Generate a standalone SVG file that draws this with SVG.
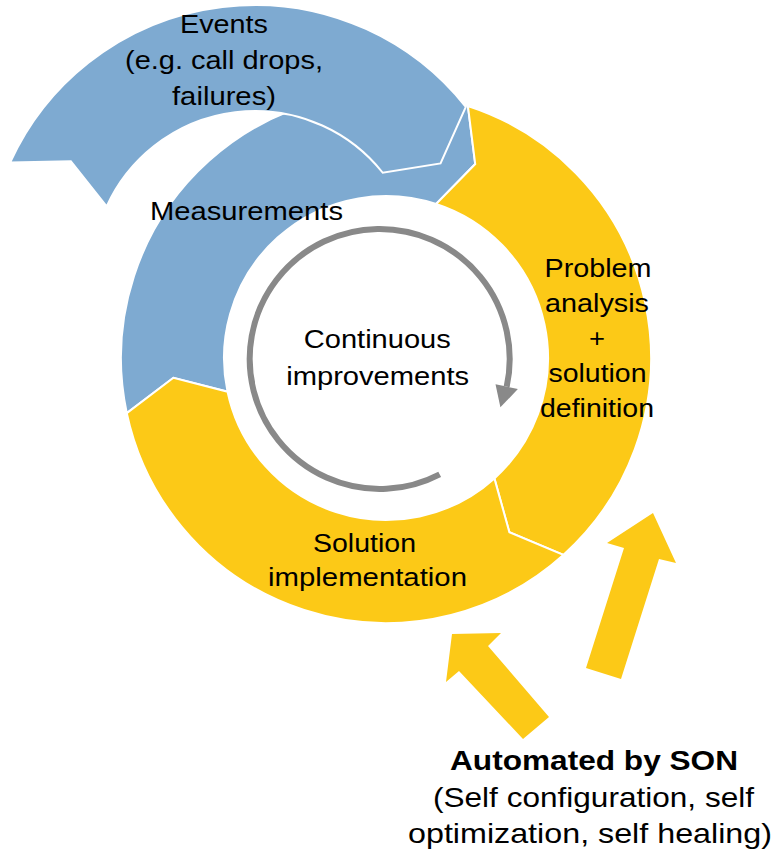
<svg xmlns="http://www.w3.org/2000/svg" width="774" height="849" viewBox="0 0 774 849">
  <style>
    .blue { fill: #7EAAD1; stroke: #FFFFFF; stroke-width: 2; stroke-linejoin: miter; }
    .yellow { fill: #FCC917; stroke: #FFFFFF; stroke-width: 2; stroke-linejoin: miter; }
    .son { fill: #FCC917; stroke: none; }
    .lbl { font-family: "Liberation Sans", Arial, sans-serif; font-size: 25.5px; fill: #000000; text-anchor: middle; }
    .big { font-size: 28px; }
    .bold { font-weight: bold; }
    .loop { fill: none; stroke: #898989; stroke-width: 6; }
  </style>

  <rect x="0" y="0" width="774" height="849" fill="#FFFFFF"/>

  <!-- Ring segment: Measurements (left / top) -->
  <g id="measurements">
    <path class="blue" d="M 126.79,413.10 A 265 265 0 0 1 467.89,105.97 L 475.22,164.03 L 436.06,203.93 A 162 162 0 0 0 227.54,391.68 L 173.41,377.72 Z"/>
    <text class="lbl" x="246.5" y="220" textLength="193" lengthAdjust="spacingAndGlyphs">Measurements</text>
  </g>

  <!-- Ring segment: Problem analysis + solution definition (right) -->
  <g id="problem-analysis">
    <path class="yellow" d="M 467.89,105.97 A 265 265 0 0 1 563.32,554.93 L 509.37,532.25 L 494.40,478.39 A 162 162 0 0 0 436.06,203.93 L 475.22,164.03 Z"/>
    <text class="lbl" x="598" y="277" textLength="107" lengthAdjust="spacingAndGlyphs">Problem</text>
    <text class="lbl" x="597" y="312" textLength="104" lengthAdjust="spacingAndGlyphs">analysis</text>
    <text class="lbl" x="597" y="347" textLength="16" lengthAdjust="spacingAndGlyphs">+</text>
    <text class="lbl" x="597.5" y="382" textLength="98" lengthAdjust="spacingAndGlyphs">solution</text>
    <text class="lbl" x="597" y="417" textLength="114" lengthAdjust="spacingAndGlyphs">definition</text>
  </g>

  <!-- Ring segment: Solution implementation (bottom) -->
  <g id="solution-implementation">
    <path class="yellow" d="M 563.32,554.93 A 265 265 0 0 1 126.79,413.10 L 173.41,377.72 L 227.54,391.68 A 162 162 0 0 0 494.40,478.39 L 509.37,532.25 Z"/>
    <text class="lbl" x="364.5" y="552" textLength="103" lengthAdjust="spacingAndGlyphs">Solution</text>
    <text class="lbl" x="367.5" y="586" textLength="199" lengthAdjust="spacingAndGlyphs">implementation</text>
  </g>

  <!-- Outer segment: Events -->
  <g id="events">
    <path class="blue" d="M 10.20,162.45 A 269 269 0 0 1 465.81,106.91 L 440.54,163.40 L 382.74,172.75 A 163 163 0 0 0 106.66,206.41 L 70.83,161.14 Z"/>
    <text class="lbl" x="224" y="33" textLength="88" lengthAdjust="spacingAndGlyphs">Events</text>
    <text class="lbl" x="224" y="69" textLength="198" lengthAdjust="spacingAndGlyphs">(e.g. call drops,</text>
    <text class="lbl" x="224" y="105" textLength="104" lengthAdjust="spacingAndGlyphs">failures)</text>
  </g>

  <!-- Centre: Continuous improvements -->
  <g id="continuous-improvements">
    <text class="lbl" x="377.3" y="348" textLength="147" lengthAdjust="spacingAndGlyphs">Continuous</text>
    <text class="lbl" x="377.7" y="385" textLength="183" lengthAdjust="spacingAndGlyphs">improvements</text>
  </g>

  <!-- SON caption -->
  <g id="son-caption">
    <text class="lbl big bold" x="594" y="770" textLength="288" lengthAdjust="spacingAndGlyphs">Automated by SON</text>
    <text class="lbl big" x="593.5" y="807" textLength="321" lengthAdjust="spacingAndGlyphs">(Self configuration, self</text>
    <text class="lbl big" x="408" y="843" textLength="364" lengthAdjust="spacingAndGlyphs" style="text-anchor:start">optimization, self healing)</text>
  </g>

  <g id="connectors">
    <!-- inner clockwise loop with arrowhead -->
    <path class="loop" d="M 439.7,474.3 A 130 130 0 1 1 506.7,386.7"/>
    <polygon fill="#898989" points="517.9,389.1 495.5,384.2 500.4,407.3"/>
    <!-- SON arrows -->
    <polygon class="son" points="653,513 676,563 659,559 621,679 586,668 624,548 607,543"/>
    <polygon class="son" points="452,634 501,633 488,646 549,717 523,739 459,671 446,682"/>
  </g>
</svg>
